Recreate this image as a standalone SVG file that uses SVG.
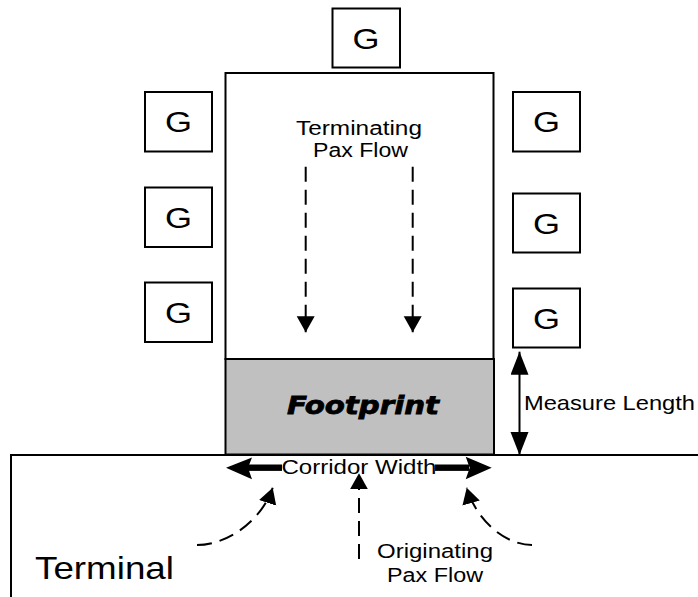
<svg xmlns="http://www.w3.org/2000/svg" width="698" height="597" viewBox="0 0 698 597">
  <style>
    .box { fill: #ffffff; stroke: #000000; stroke-width: 2; }
    .lbl { font-family: "Liberation Sans", Arial, sans-serif; fill: #000000; }
    .g { font-size: 30px; text-anchor: middle; }
    .t20 { font-size: 20px; }
    .flow { fill: none; stroke: #000000; stroke-width: 2; stroke-dasharray: 15 8; }
  </style>
  <defs>
    <marker id="flowHead" markerUnits="userSpaceOnUse" markerWidth="17" markerHeight="19" refX="16" refY="9" orient="auto" viewBox="0 0 17 19">
      <path d="M0,0 L16,9 L0,18 Z" fill="#000000"/>
    </marker>
    <marker id="dimHead" markerUnits="userSpaceOnUse" markerWidth="24" markerHeight="19" refX="23" refY="9" orient="auto-start-reverse" viewBox="0 0 24 19">
      <path d="M0,0 L23,9 L0,18 Z" fill="#000000"/>
    </marker>
  </defs>

  <!-- terminal building edge -->
  <g id="terminal">
    <path d="M11,598 V455 H699" fill="none" stroke="#000000" stroke-width="2"/>
    <text class="lbl" x="35" y="579" font-size="32" textLength="139" lengthAdjust="spacingAndGlyphs">Terminal</text>
  </g>

  <!-- pier -->
  <g id="pier">
    <rect class="box" x="225.5" y="73" width="268" height="286"/>
    <text class="lbl t20" x="296" y="135" textLength="126" lengthAdjust="spacingAndGlyphs">Terminating</text>
    <text class="lbl t20" x="313" y="156.5" textLength="95" lengthAdjust="spacingAndGlyphs">Pax Flow</text>
  </g>

  <!-- footprint -->
  <g id="footprint">
    <rect x="225.5" y="359" width="268.5" height="95.5" fill="#c0c0c0" stroke="#000000" stroke-width="2"/>
    <text x="287" y="414" font-family="DejaVu Sans, sans-serif" font-weight="bold" font-style="italic" font-size="24" stroke="#000000" stroke-width="0.8" textLength="152" lengthAdjust="spacingAndGlyphs">Footprint</text>
  </g>

  <!-- gates -->
  <g id="gate-top">
    <rect class="box" x="332.5" y="8.5" width="67.5" height="59"/>
    <text class="lbl g" x="366" y="48.5" textLength="27" lengthAdjust="spacingAndGlyphs">G</text>
  </g>
  <g id="gate-left-1">
    <rect class="box" x="145" y="92" width="67" height="59.5"/>
    <text class="lbl g" x="178.5" y="132" textLength="27" lengthAdjust="spacingAndGlyphs">G</text>
  </g>
  <g id="gate-left-2">
    <rect class="box" x="145" y="187.5" width="67" height="59.5"/>
    <text class="lbl g" x="178.5" y="227.5" textLength="27" lengthAdjust="spacingAndGlyphs">G</text>
  </g>
  <g id="gate-left-3">
    <rect class="box" x="145" y="282.5" width="67" height="59.5"/>
    <text class="lbl g" x="178.5" y="322.5" textLength="27" lengthAdjust="spacingAndGlyphs">G</text>
  </g>
  <g id="gate-right-1">
    <rect class="box" x="513" y="92" width="67" height="59.5"/>
    <text class="lbl g" x="546.5" y="132" textLength="27" lengthAdjust="spacingAndGlyphs">G</text>
  </g>
  <g id="gate-right-2">
    <rect class="box" x="513" y="193.5" width="67" height="59"/>
    <text class="lbl g" x="546.5" y="233.5" textLength="27" lengthAdjust="spacingAndGlyphs">G</text>
  </g>
  <g id="gate-right-3">
    <rect class="box" x="513" y="288.5" width="67" height="59"/>
    <text class="lbl g" x="546.5" y="328.5" textLength="27" lengthAdjust="spacingAndGlyphs">G</text>
  </g>

  <!-- flows and dimensions -->
  <g id="connectors">
    <!-- terminating flow down the pier -->
    <path class="flow" d="M305.7,166.7 V332.3" marker-end="url(#flowHead)"/>
    <path class="flow" d="M412.7,166.7 V332.3" marker-end="url(#flowHead)"/>

    <!-- originating flow from the terminal -->
    <path class="flow" d="M359,559 V473.3" marker-end="url(#flowHead)"/>
    <path class="flow" d="M197,545 C228,545 262,520 272.7,487.7" marker-end="url(#flowHead)"/>
    <path class="flow" d="M532,545 C505,545 476,520 466.7,487.7" marker-end="url(#flowHead)"/>

    <!-- measure length dimension -->
    <path d="M519.5,351.7 V455" stroke="#000000" stroke-width="2" fill="none" marker-start="url(#dimHead)" marker-end="url(#dimHead)"/>
    <text class="lbl" x="524" y="410" font-size="21" textLength="171" lengthAdjust="spacingAndGlyphs">Measure Length</text>

    <!-- corridor width dimension -->
    <g id="corridor-width">
      <rect x="248" y="464.5" width="34" height="6.4" fill="#000000"/>
      <rect x="435" y="464.5" width="34" height="6.4" fill="#000000"/>
      <path d="M226,467.7 L252,457.5 L248,467.7 L252,479.3 Z" fill="#000000"/>
      <path d="M491.7,467.7 L465.7,456.7 L469.7,467.7 L465.7,479.3 Z" fill="#000000"/>
      <text class="lbl t20" x="281.5" y="473.5" textLength="155" lengthAdjust="spacingAndGlyphs">Corridor Width</text>
    </g>

    <text class="lbl t20" x="377" y="557.5" textLength="116" lengthAdjust="spacingAndGlyphs">Originating</text>
    <text class="lbl t20" x="387" y="582" textLength="96" lengthAdjust="spacingAndGlyphs">Pax Flow</text>
  </g>
</svg>
